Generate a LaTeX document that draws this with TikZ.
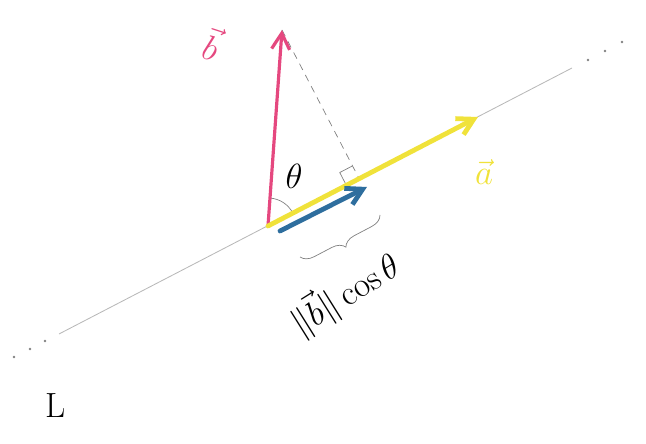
\documentclass[tikz,border=0pt]{standalone}
\usepackage{amsmath}
\usetikzlibrary{arrows.meta,calc,decorations.pathreplacing}
\definecolor{bvec}{HTML}{E5487F}
\definecolor{avec}{HTML}{F0E23A}
\definecolor{proj}{HTML}{2E6E9E}
\definecolor{linegray}{HTML}{B8B8B8}

\begin{document}
\begin{tikzpicture}[x=0.025cm, y=0.025cm, >={Straight Barb[length=4mm,width=4.5mm]}, font=\Huge,
    vec/.style={line width=1.2mm, line cap=round, ->},
    thin/.style={gray, line width=0.5pt}]
  \useasboundingbox (0,0) rectangle (646,444);

  \coordinate (O) at (268,218);
  \coordinate (A) at (478,327);
  \coordinate (B) at (282,414);
  \coordinate (Ls) at (59,110);
  \coordinate (Le) at (572,376);
  \coordinate (F) at ($(O)!(B)!(A)$);
  \coordinate (P0) at (280,213);
  \coordinate (P1) at (367,257);
  \coordinate (K1) at (380,229);
  \coordinate (K2) at (300,187);

  % line L and its dots
  \draw[linegray, line width=0.6pt] (Ls) -- (Le);
  \foreach \p in {(14,87),(30,95),(45,103),(588,384),(605,393),(622,402)}
    \fill[linegray!70!black] \p circle (1.3);

  % projection, right angle, angle
  \coordinate (r1) at ($(F)!0.36cm!(O)$);
  \coordinate (r2) at ($(F)!0.36cm!(B)$);
  \draw[thin, dashed, dash pattern=on 5pt off 4pt] (B) -- (F);
  \draw[thin] (r1) -- ($(r1)+(r2)-(F)$) -- (r2);
  \draw[thin] ($(O)+(27.4:28)$) arc (27.4:85.9:28);

  % vectors
  \draw[vec, bvec, line width=0.8mm] (O) -- (B);
  \draw[vec, avec] (O) -- (A);
  \draw[vec, proj] (P0) -- (P1);
  \draw[thin, decorate, decoration={brace, amplitude=9}] (K1) -- (K2);

  % labels
  \node[bvec, rotate=-18] (lb) at (212,400) {$\vec{b}$};
  \node[avec] (la) at (484,272) {$\vec{a}$};
  \node (lt) at (294,268) {$\theta$};
  \node[rotate=32] (lp) at (345,150) {$\|\vec{b}\|\cos\theta$};
  \node (lL) at (56,38) {L};
\end{tikzpicture}
\end{document}
